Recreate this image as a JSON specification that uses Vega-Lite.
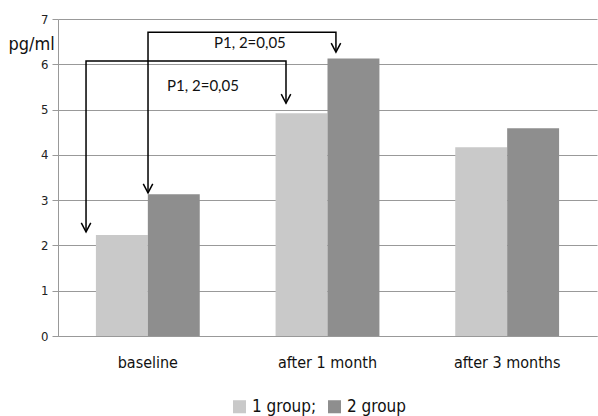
{
  "$schema": "https://vega.github.io/schema/vega-lite/v6.json",
  "width": 539,
  "height": 317,
  "autosize": {"type": "none"},
  "padding": {"left": 58, "top": 19, "right": 1, "bottom": 80},
  "background": "white",
  "config": {
    "view": {"stroke": null},
    "font": "DejaVu Sans Condensed, Roboto"
  },
  "datasets": {
    "bars": [
      {"period": "baseline", "group": "1 group", "value": 2.23},
      {"period": "baseline", "group": "2 group", "value": 3.13},
      {"period": "after 1 month", "group": "1 group", "value": 4.92},
      {"period": "after 1 month", "group": "2 group", "value": 6.13},
      {"period": "after 3 months", "group": "1 group", "value": 4.17},
      {"period": "after 3 months", "group": "2 group", "value": 4.59}
    ],
    "paths": [
      {"arrow": "a", "ord": 1, "px": 0.156, "py": 2.3},
      {"arrow": "a", "ord": 2, "px": 0.156, "py": 6.07},
      {"arrow": "a", "ord": 3, "px": 1.269, "py": 6.07},
      {"arrow": "a", "ord": 4, "px": 1.269, "py": 5.14},
      {"arrow": "b", "ord": 1, "px": 0.501, "py": 3.16},
      {"arrow": "b", "ord": 2, "px": 0.501, "py": 6.71},
      {"arrow": "b", "ord": 3, "px": 1.547, "py": 6.71},
      {"arrow": "b", "ord": 4, "px": 1.547, "py": 6.27}
    ],
    "heads": [
      {"px": 0.156, "py": 2.3},
      {"px": 1.269, "py": 5.14},
      {"px": 0.501, "py": 3.16},
      {"px": 1.547, "py": 6.27}
    ],
    "labels": [
      {"px": 1.068, "py": 6.47, "text": "P1, 2=0,05"},
      {"px": 0.807, "py": 5.52, "text": "P1, 2=0,05"}
    ]
  },
  "layer": [
    {
      "data": {"name": "bars"},
      "mark": {"type": "bar"},
      "encoding": {
        "x": {
          "field": "period", "type": "nominal", "sort": null,
          "scale": {"paddingInner": 0.422, "paddingOuter": 0.211},
          "axis": {
            "title": null, "labelAngle": 0, "ticks": false,
            "labelFontSize": 16, "labelColor": "#111", "labelPadding": 18,
            "domainColor": "#999"
          }
        },
        "xOffset": {"field": "group", "type": "nominal", "scale": {"paddingInner": 0, "paddingOuter": 0}},
        "y": {
          "field": "value", "type": "quantitative",
          "scale": {"domain": [0, 7], "nice": false},
          "axis": {
            "values": [0, 1, 2, 3, 4, 5, 6, 7],
            "title": "pg/ml", "titleAngle": 0, "titleAlign": "left", "titleBaseline": "middle",
            "titleX": -50, "titleY": 25, "titleFontSize": 18, "titleFontWeight": "normal",
            "titleColor": "#111",
            "labelFontSize": 13, "labelColor": "#222", "labelPadding": 4,
            "tickColor": "#999", "tickSize": 6, "domainColor": "#999",
            "gridColor": "#999", "gridOpacity": 1
          }
        },
        "color": {
          "field": "group", "type": "nominal",
          "scale": {"domain": ["1 group", "2 group"], "range": ["#c9c9c9", "#8e8e8e"]},
          "legend": {
            "title": null, "orient": "none", "direction": "horizontal",
            "legendX": 173, "legendY": 379,
            "symbolType": "square", "symbolSize": 170, "symbolStrokeWidth": 0,
            "labelFontSize": 17, "labelColor": "#111",
            "columnPadding": 9,
            "labelExpr": "datum.label == '1 group' ? '1 group;' : datum.label"
          }
        }
      }
    },
    {
      "data": {"name": "paths"},
      "mark": {"type": "line", "color": "black", "strokeWidth": 1.5},
      "encoding": {
        "x": {"field": "px", "type": "quantitative", "scale": {"domain": [0, 3], "nice": false, "zero": false}, "axis": null},
        "y": {"field": "py", "type": "quantitative"},
        "detail": {"field": "arrow"},
        "order": {"field": "ord"}
      }
    },
    {
      "data": {"name": "heads"},
      "mark": {"type": "point", "shape": "M-1,-1.9L0,0L1,-1.9", "filled": false, "stroke": "black", "strokeWidth": 1.5, "size": 90, "opacity": 1},
      "encoding": {
        "x": {"field": "px", "type": "quantitative", "scale": {"domain": [0, 3], "nice": false, "zero": false}, "axis": null},
        "y": {"field": "py", "type": "quantitative"}
      }
    },
    {
      "data": {"name": "labels"},
      "mark": {"type": "text", "font": "Lato", "fontSize": 15, "color": "#111", "align": "center", "baseline": "middle"},
      "encoding": {
        "x": {"field": "px", "type": "quantitative", "scale": {"domain": [0, 3], "nice": false, "zero": false}, "axis": null},
        "y": {"field": "py", "type": "quantitative"},
        "text": {"field": "text"}
      }
    }
  ],
  "resolve": {"scale": {"x": "independent"}}
}
